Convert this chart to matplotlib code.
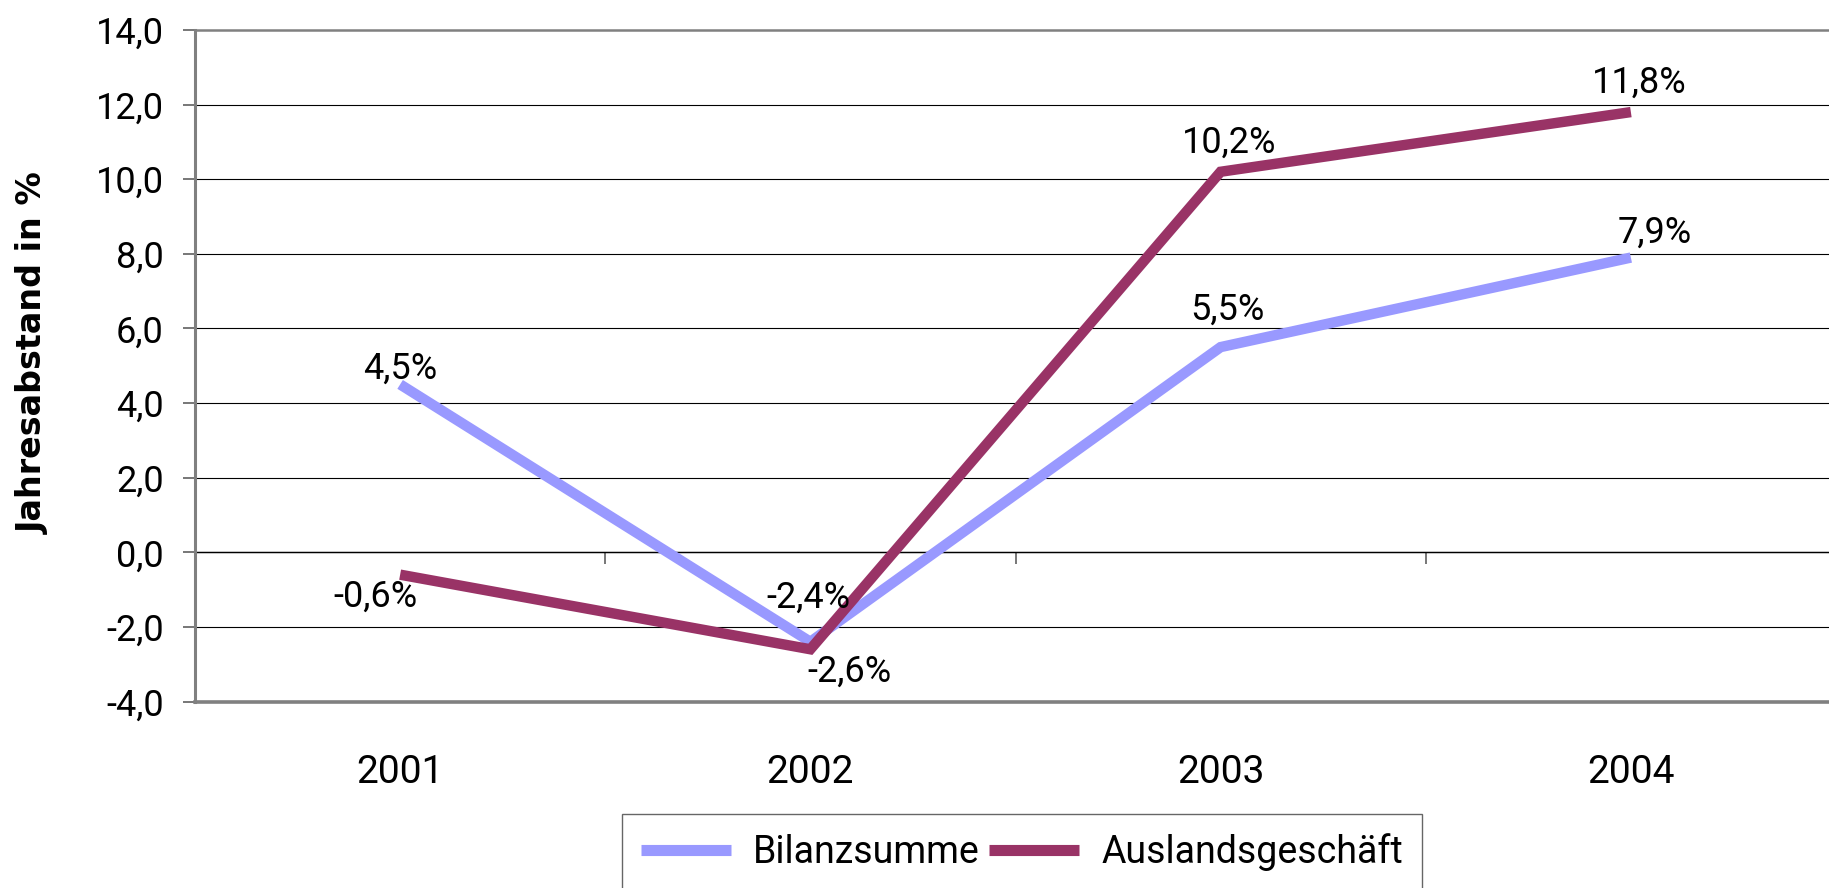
import matplotlib
matplotlib.use("Agg")
import matplotlib.pyplot as plt
from matplotlib.lines import Line2D

# ---------------- data ----------------
years = ["2001", "2002", "2003", "2004"]
bilanzsumme = [4.5, -2.4, 5.5, 7.9]
auslandsgeschaeft = [-0.6, -2.6, 10.2, 11.8]
series_names = ["Bilanzsumme", "Auslandsgeschäft"]
y_ticks = [-4, -2, 0, 2, 4, 6, 8, 10, 12, 14]
y_label = "Jahresabstand in %"

# ---------------- style ----------------
colors = ["#9999FF", "#993366"]
# label offsets in points (style only)
offsets_b = [(0, 11), (-1.5, 32), (5, 27), (17, 18)]
offsets_a = [(-18, -16), (28, -16), (6, 21), (6, 21)]

W, H = 1829, 888
fig = plt.figure(figsize=(W / 100, H / 100), dpi=100)
left_px, right_px, top_px, bottom_px = 195, 1836, 30, 701.5
ax = fig.add_axes([left_px / W, 1 - bottom_px / H,
                   (right_px - left_px) / W, (bottom_px - top_px) / H])

x = list(range(len(years)))
ax.set_xlim(-0.5, len(years) - 0.5)
ax.set_ylim(y_ticks[0], y_ticks[-1])

# grid lines
for v in y_ticks[1:-1]:
    ax.axhline(v, color="black", lw=0.8, zorder=1)

lab_font = "Roboto"

for vals, col, offs in [(bilanzsumme, colors[0], offsets_b),
                        (auslandsgeschaeft, colors[1], offsets_a)]:
    ax.plot(x, vals, color=col, lw=7.5, solid_joinstyle="miter",
            solid_capstyle="butt", zorder=3)
    for xi, v, off in zip(x, vals, offs):
        ax.annotate(f"{v:.1f}".replace(".", ",") + "%", (xi, v),
                    xytext=off, textcoords="offset points",
                    ha="center", va="center", fontsize=26,
                    family=lab_font, color="black", zorder=4)

# spines
ax.spines["right"].set_visible(False)
ax.spines["left"].set_color("#808080")
ax.spines["left"].set_linewidth(2.2)
ax.spines["top"].set_color("#808080")
ax.spines["top"].set_linewidth(1.8)
ax.spines["bottom"].set_color("#808080")
ax.spines["bottom"].set_linewidth(2.6)

# y ticks
ax.set_yticks(y_ticks)
ax.set_yticklabels([f"{v:.1f}".replace(".", ",") for v in y_ticks],
                   family=lab_font, fontsize=26)
ax.tick_params(axis="y", direction="out", length=8.6, width=1.2,
               color="#606060", pad=14)

# x labels at bottom, no tick marks
ax.set_xticks(x)
ax.set_xticklabels(years, family=lab_font, fontsize=28)
ax.tick_params(axis="x", length=0, pad=38)

# category axis crossing at zero with boundary tick marks
y0 = ax.get_ylim()
frac0 = (0 - y0[0]) / (y0[1] - y0[0])
sec = ax.secondary_xaxis(frac0)
sec.set_xticks([i - 0.5 for i in x])
sec.set_xticklabels([])
sec.tick_params(axis="x", direction="out", length=8.6, width=1.2,
                color="#606060")
sec.spines["bottom"].set_color("black")
sec.spines["bottom"].set_linewidth(1.0)

ax.set_ylabel(y_label, fontsize=24, fontweight="bold",
              family=["DejaVu Sans"])
ax.yaxis.set_label_coords((50 - left_px) / (right_px - left_px),
                          (bottom_px - 353) / (bottom_px - top_px))

handles = [Line2D([], [], color=c, lw=8, solid_capstyle="butt") for c in colors]
leg = fig.legend(handles, series_names, loc="upper left",
                 bbox_to_anchor=(622 / W, 1 - 814 / H), ncol=2,
                 frameon=True, fancybox=False, edgecolor="#404040",
                 prop={"family": lab_font, "size": 27},
                 handlelength=2.4, handletextpad=0.6, columnspacing=0.25,
                 borderpad=0.5, borderaxespad=0)
leg.get_frame().set_linewidth(1.0)

fig.savefig("out.png", dpi=100)
